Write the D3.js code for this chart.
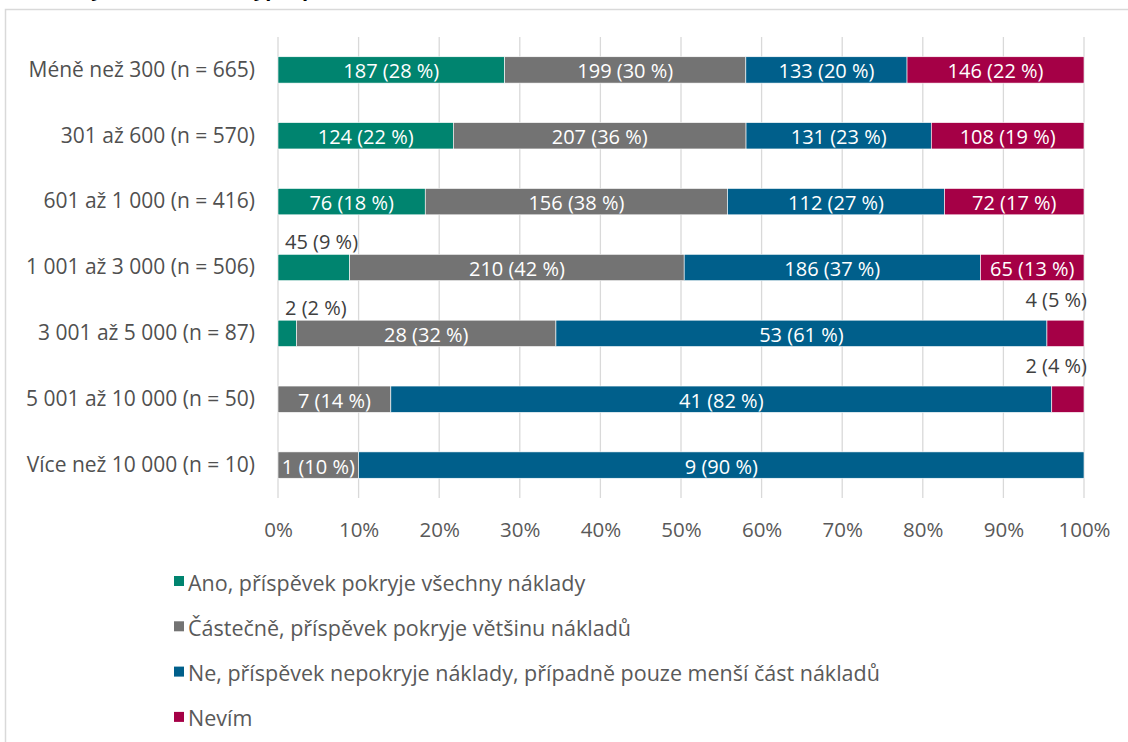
<!DOCTYPE html>
<html>
<head>
<meta charset="utf-8">
<script src="https://cdn.jsdelivr.net/npm/d3@7"></script>
<style>
  body { margin: 0; background: #fff; }
  svg { display: block; }
  svg text { font-family: "Open Sans", Lato, sans-serif; }
</style>
</head>
<body>
<svg id="graf" width="1128" height="742"></svg>
<script>
// data
var categories = ["Méně než 300 (n = 665)", "301 až 600 (n = 570)", "601 až 1 000 (n = 416)",
  "1 001 až 3 000 (n = 506)", "3 001 až 5 000 (n = 87)", "5 001 až 10 000 (n = 50)", "Více než 10 000 (n = 10)"]
var seriesNames = ["Ano, příspěvek pokryje všechny náklady", "Částečně, příspěvek pokryje většinu nákladů",
  "Ne, příspěvek nepokryje náklady, případně pouze menší část nákladů", "Nevím"]
var ano = [187, 124, 76, 45, 2, 0, 0]
var castecne = [199, 207, 156, 210, 28, 7, 1]
var ne = [133, 131, 112, 186, 53, 41, 9]
var nevim = [146, 108, 72, 65, 4, 2, 0]
var totals = [665, 570, 416, 506, 87, 50, 10]
var xTicks = [0, 0.1, 0.2, 0.3, 0.4, 0.5, 0.6, 0.7, 0.8, 0.9, 1]
var barvy = ["#00846f", "#737373", "#005f8b", "#a50046"]

var svg = d3.select("#graf")

// oříznutý nadpis nahoře
svg.append("text").attr("x", 500).attr("y", -4).attr("text-anchor", "end")
  .style("font-weight", "bold").style("font-size", "20px").attr("fill", "#000")
  .text("Graf 7: Pokrytí nákladů dle typu, podle velikosti obce")
svg.append("text").attr("x", 503).attr("y", -4)
  .style("font-weight", "bold").style("font-size", "20px").attr("fill", "#000")
  .text("(n = 2 304)")

// rámeček grafu
svg.append("path").attr("d", "M5.5,742 L5.5,9.5 L1130,9.5")
  .attr("fill", "none").attr("stroke", "#d9d9d9").attr("stroke-width", 1.5)

var keys = ["ano", "castecne", "ne", "nevim"]
var rows = categories.map(function(c, i) {
  return { kat: c, n: totals[i], ano: ano[i] / totals[i], castecne: castecne[i] / totals[i],
    ne: ne[i] / totals[i], nevim: nevim[i] / totals[i],
    abs: [ano[i], castecne[i], ne[i], nevim[i]] }
})

var x = d3.scaleLinear().domain([0, 1]).range([278, 1084])
var y = d3.scaleBand().domain(categories).range([37, 498]).paddingInner(0.6).paddingOuter(0.3)

// mřížka
svg.append("g").selectAll("line").data(xTicks).enter().append("line")
  .attr("x1", function(d) { return x(d) }).attr("x2", function(d) { return x(d) })
  .attr("y1", 37).attr("y2", 498)
  .attr("stroke", "#d9d9d9").attr("stroke-width", 1.3)

var stack = d3.stack().keys(keys)(rows)

var g = svg.append("g")
stack.forEach(function(s, si) {
  g.selectAll(".s" + si).data(s).enter().append("rect")
    .attr("x", function(d) { return x(d[0]) })
    .attr("y", function(d) { return y(d.data.kat) })
    .attr("width", function(d) { return x(d[1]) - x(d[0]) })
    .attr("height", y.bandwidth())
    .attr("fill", barvy[si])
    .attr("stroke", "#fff").attr("stroke-width", 0.6)

  g.selectAll(".l" + si).data(s.filter(function(d) { return d.data.abs[si] > 0 })).enter().append("text")
    .each(function(d) {
      var v = d.data.abs[si]
      var pct = v / d.data.n
      var cy = y(d.data.kat) + y.bandwidth() / 2
      var t = d3.select(this).text(v + " (" + Math.round(pct * 100) + " %)")
        .style("font-size", "20px").attr("dominant-baseline", "central")
      if (pct >= 0.1) {
        t.attr("x", (x(d[0]) + x(d[1])) / 2).attr("y", cy + 1)
          .attr("text-anchor", "middle").attr("fill", "#fff")
      } else if (si == 0) {
        t.attr("x", x(d[0]) + 7).attr("y", cy - 26).attr("fill", "#404040")
      } else {
        t.attr("x", x(d[1]) + 3).attr("y", cy - 34).attr("text-anchor", "end").attr("fill", "#404040")
      }
    })
})

// osy
var osaX = svg.append("g").attr("transform", "translate(0,498)")
  .call(d3.axisBottom(x).tickValues(xTicks).tickFormat(d3.format(".0%")).tickSize(0).tickPadding(24))
osaX.select(".domain").remove()
osaX.selectAll("text").style("font-size", "20.5px").style("font-family", "Open Sans").attr("fill", "#595959")

var osaY = svg.append("g").attr("transform", "translate(278,0)")
  .call(d3.axisLeft(y).tickSize(0).tickPadding(23))
osaY.select(".domain").remove()
osaY.selectAll("text").style("font-size", "21px").style("font-family", "Open Sans").attr("fill", "#505050")

// legenda
var leg = svg.append("g").selectAll("g").data(seriesNames).enter().append("g")
  .attr("transform", function(d, i) { return "translate(174," + (581 + i * 45.3) + ")" })
leg.append("rect").attr("x", 0).attr("y", -5).attr("width", 10).attr("height", 10)
  .attr("fill", function(d, i) { return barvy[i] })
leg.append("text").attr("x", 14).attr("y", 1).attr("dominant-baseline", "central")
  .style("font-size", "21.5px").attr("fill", "#595959")
  .text(function(d) { return d })
</script>
</body>
</html>
